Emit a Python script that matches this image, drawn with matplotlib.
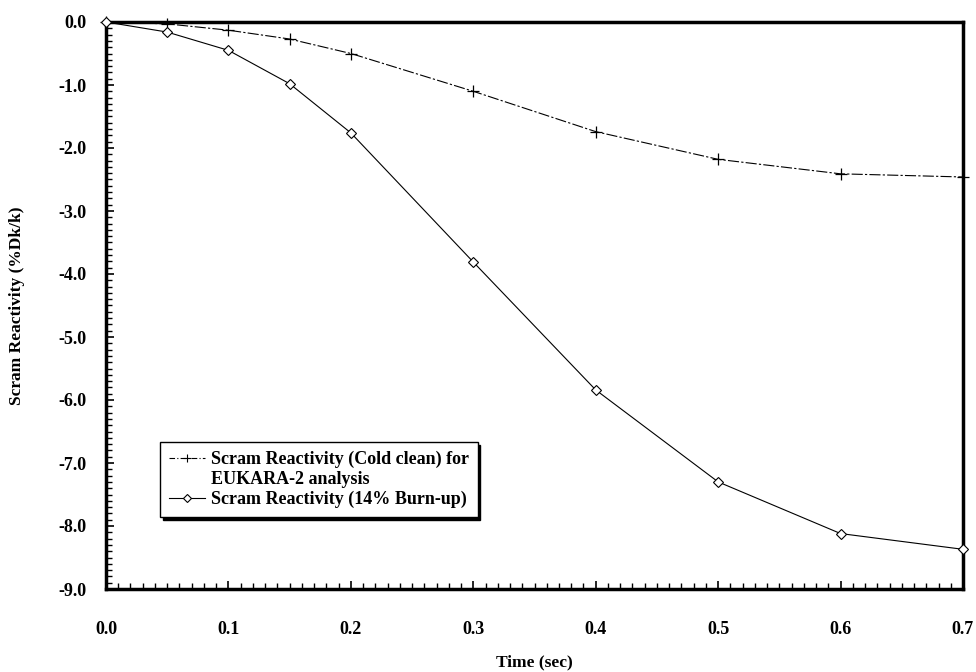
import matplotlib
matplotlib.use("Agg")
import matplotlib.pyplot as plt
from matplotlib.lines import Line2D
from matplotlib.ticker import MultipleLocator, FormatStrFormatter

plt.rcParams['font.family'] = ['Liberation Serif', 'DejaVu Serif']

time_s = [0.0, 0.05, 0.1, 0.15, 0.2, 0.3, 0.4, 0.5, 0.6, 0.7]
cold_clean = [0.0, -0.03, -0.13, -0.27, -0.5, -1.1, -1.74, -2.18, -2.41, -2.46]
burn_up = [0.0, -0.16, -0.45, -0.98, -1.76, -3.81, -5.84, -7.3, -8.12, -8.37]

label_cold_1 = "Scram Reactivity (Cold clean) for"
label_cold_2 = "EUKARA-2 analysis"
label_burn = "Scram Reactivity (14% Burn-up)"

fig = plt.figure(figsize=(9.76, 6.72), dpi=100)
ax = fig.add_axes([106/976, 1-589/672, (963-106)/976, (589-22)/672])

ax.plot(time_s, cold_clean, color='black', lw=0.8, ls=(0, (10, 2, 2, 2)),
        marker='+', ms=8, mew=0.9, clip_on=False, zorder=3)
ax.plot(time_s, burn_up, color='black', lw=0.8, ls='-',
        marker='D', ms=5, mfc='white', mec='black', mew=0.8, clip_on=False, zorder=3)

ax.set_xlim(0.0, 0.7)
ax.set_ylim(-9.0, 0.0)
ax.xaxis.set_major_locator(MultipleLocator(0.1))
ax.xaxis.set_minor_locator(MultipleLocator(0.01))
ax.yaxis.set_major_locator(MultipleLocator(1.0))
ax.yaxis.set_minor_locator(MultipleLocator(0.1))
ax.xaxis.set_major_formatter(FormatStrFormatter('%.1f'))
ax.yaxis.set_major_formatter(FormatStrFormatter('%.1f'))

for s in ax.spines.values():
    s.set_linewidth(2.5)
ax.tick_params(which='both', direction='in', top=False, right=False)
ax.tick_params(which='major', length=6, width=1.2)
ax.tick_params(which='minor', length=4, width=1.0)
ax.tick_params(axis='x', which='major', pad=23, labelsize=13)
ax.tick_params(axis='y', which='major', pad=14, labelsize=13)
for t in ax.get_xticklabels() + ax.get_yticklabels():
    t.set_fontweight('bold')

ax.set_xlabel("Time (sec)", fontsize=12.5, fontweight='bold', labelpad=12)
ax.set_ylabel("Scram Reactivity (%Dk/k)", fontsize=12.5, fontweight='bold', labelpad=24)

handles = [
    Line2D([], [], color='black', lw=0.8, ls=(0, (5, 2, 1, 2)), marker='+', ms=6, mew=0.8),
    Line2D([], [], color='none'),
    Line2D([], [], color='black', lw=0.8, ls='-', marker='D', ms=4, mfc='white', mec='black', mew=0.8),
]
leg = ax.legend(handles, [label_cold_1, label_cold_2, label_burn],
                loc='upper left', bbox_to_anchor=(0.063, 0.259), borderaxespad=0,
                frameon=True, fancybox=False, shadow={'color': 'black', 'alpha': 1.0},
                edgecolor='black', framealpha=1.0, handlelength=2.0, handletextpad=0.3,
                labelspacing=0.15, borderpad=0.5,
                prop={'family': 'Liberation Serif', 'weight': 'bold', 'size': 13})
leg.get_frame().set_linewidth(1.0)

fig.savefig("out.png", dpi=100)
